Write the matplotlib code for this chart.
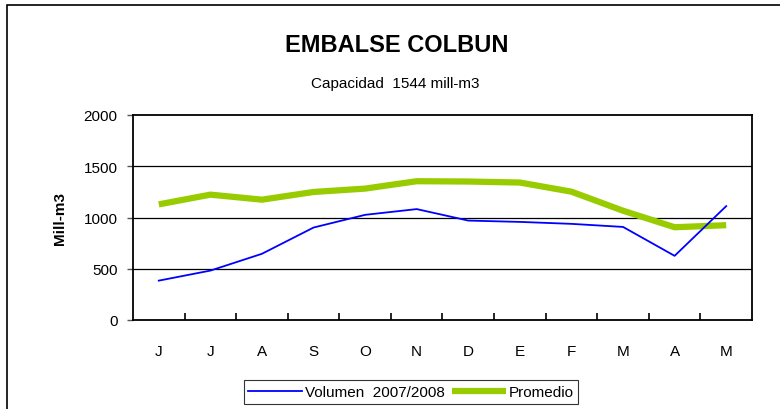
import matplotlib
matplotlib.use("Agg")
import matplotlib.pyplot as plt
from matplotlib.patches import Rectangle
import numpy as np

plt.rcParams['font.family'] = ['Liberation Sans', 'DejaVu Sans']

# months June..May
meses = ["J", "J", "A", "S", "O", "N", "D", "E", "F", "M", "A", "M"]
volumen = [384, 482, 646, 902, 1026, 1082, 970, 957, 938, 908, 626, 1111]
promedio = [1128, 1223, 1174, 1249, 1282, 1354, 1351, 1341, 1252, 1066, 905, 925]
yticks = [0, 500, 1000, 1500, 2000]

fig = plt.figure(figsize=(7.8, 4.1), dpi=100)
ax = fig.add_axes([133/780, 1 - 321/410, (752-133)/780, (321-116)/410])

x = np.arange(len(meses))
ax.plot(x, volumen, color="#0000FF", lw=1.3, label="Volumen  2007/2008", zorder=3)
ax.plot(x, promedio, color="#99CC00", lw=4.5, label="Promedio", zorder=2,
        solid_capstyle="butt")

ax.set_xlim(-0.5, len(meses) - 0.5)
ax.set_ylim(0, 2000)
ax.set_yticks(yticks)
ax.set_yticklabels([str(v) for v in yticks], fontsize=11)
ax.set_xticks(x)
ax.set_xticklabels(meses, fontsize=11)
ax.set_xticks(np.arange(0.5, len(meses) - 1, 1), minor=True)
ax.tick_params(axis="x", which="major", length=0, pad=17)
ax.tick_params(axis="x", which="minor", direction="in", length=5, width=1.2)
ax.tick_params(axis="y", direction="out", length=4, width=1, color="#555555", pad=7)
for v in yticks[1:-1]:
    ax.axhline(v, color="black", lw=0.9, zorder=1)
for s in ax.spines.values():
    s.set_linewidth(1.3)

ax.set_ylabel("Mill-m3", fontsize=11, fontweight="bold", labelpad=12)

fig.text(0.509, 1 - 45/410, "EMBALSE COLBUN", ha="center", va="center",
         fontsize=17, fontweight="bold")
fig.text(0.507, 1 - 84/410, "Capacidad  1544 mill-m3", ha="center", va="center",
         fontsize=11)

leg = ax.legend(loc="center", bbox_to_anchor=(411/780, 1 - 393/410),
                bbox_transform=fig.transFigure, ncol=2, frameon=True,
                fancybox=False, edgecolor="black", fontsize=11,
                handlelength=3.5, handletextpad=0.2, columnspacing=0.5,
                borderpad=0.3)
leg.get_frame().set_linewidth(0.8)

# outer chart frame (cut off at right and bottom)
fig.patches.append(Rectangle((7/780, -0.1), 1.2, 1 - 6/410 + 0.1,
                             transform=fig.transFigure, fill=False,
                             edgecolor="black", lw=1.2))

fig.savefig("out.png", dpi=100)
